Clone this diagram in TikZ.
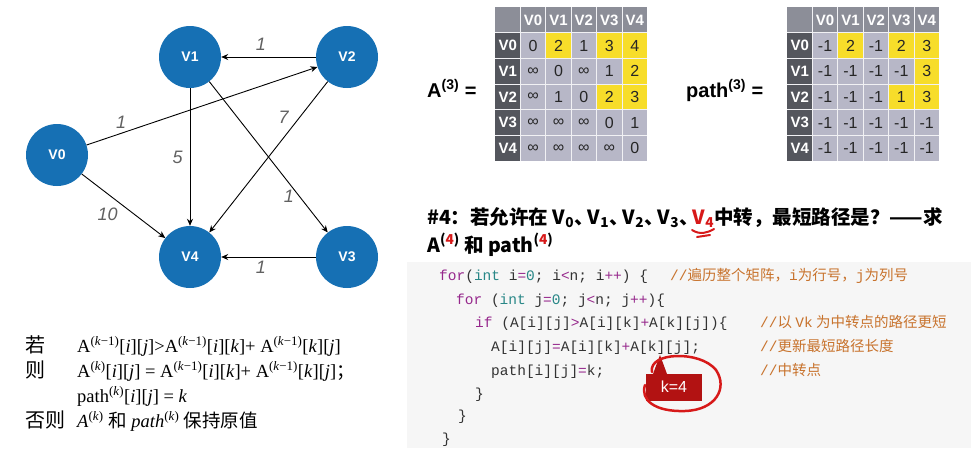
\documentclass[tikz,border=0pt]{standalone}
\usepackage{fontspec}
\usetikzlibrary{arrows.meta}
\newfontfamily\hei{Noto Sans CJK SC}
\newfontfamily\tms{Liberation Serif}
\newfontfamily\hv{Liberation Sans}
\newfontfamily\mono{Liberation Mono}

\definecolor{vblue}{RGB}{22,112,180}
\definecolor{hdgray}{RGB}{140,142,152}
\definecolor{rowgray}{RGB}{84,86,93}
\definecolor{cellgray}{RGB}{183,183,199}
\definecolor{cellyel}{RGB}{247,221,42}
\definecolor{codebg}{RGB}{246,246,246}
\definecolor{kwpurple}{RGB}{150,40,140}
\definecolor{tyteal}{RGB}{40,135,135}
\definecolor{cmorange}{RGB}{200,115,45}
\definecolor{markred}{RGB}{215,25,25}
\definecolor{boxred}{RGB}{178,18,18}

% code colouring
\newcommand{\ckw}[1]{\textcolor{kwpurple}{#1}}
\newcommand{\cty}[1]{\textcolor{tyteal}{#1}}
\newcommand{\cnum}[1]{\textcolor{tyteal}{#1}}
\newcommand{\cop}[1]{\textcolor{kwpurple}{#1}}
\newcommand{\sk}[1]{\textsuperscript{(\textit{#1})}}
\newcommand{\skm}{\textsuperscript{(\textit{k}−1)}}
\newcommand{\dun}{\makebox[0.7em][l]{、}}

\tikzset{
  vert/.style={circle, fill=vblue, minimum size=62pt, inner sep=0pt, text=white,
    font=\hv\bfseries\fontsize{14}{14}\selectfont},
  arc/.style={-{Stealth[length=7pt,width=6pt]}, line width=0.9pt},
  wt/.style={font=\hv\itshape\fontsize{18}{18}\selectfont, text=black!62, inner sep=2pt},
  frm/.style={anchor=base west, inner sep=0pt, font=\tms\fontsize{18.5}{18.5}\selectfont},
  cjk/.style={anchor=base west, inner sep=0pt, font=\hei\fontsize{19}{19}\selectfont},
  hdtxt/.style={text=white, font=\hv\bfseries\fontsize{15}{15}\selectfont, inner sep=0pt},
  celltxt/.style={text=black!85, font=\hv\fontsize{16}{16}\selectfont, inner sep=0pt},
  matlab/.style={anchor=base west, inner sep=0pt, font=\hv\bfseries\fontsize{20}{20}\selectfont},
  codeln/.style={anchor=base west, inner sep=0pt, text=black!80, font=\mono\fontsize{14.5}{14.5}\selectfont},
  cmt/.style={anchor=base west, inner sep=0pt, text=cmorange, font=\hei\fontsize{14.5}{14.5}\selectfont},
}

\begin{document}
\begin{tikzpicture}[x=1pt, y=-1pt]
\useasboundingbox (0,0) rectangle (971,453);
\fill[white] (0,0) rectangle (971,453);

% graph
\node[vert] (V0) at (57,155) {V0};
\node[vert] (V1) at (190,57) {V1};
\node[vert] (V2) at (347,57) {V2};
\node[vert] (V3) at (347,257) {V3};
\node[vert] (V4) at (190,257) {V4};

\draw[arc] (V2) -- node[wt, pos=0.58, above=4pt] {1} (V1);
\draw[arc] (V0) -- node[wt, pos=0.15, above=2pt] {1} (V2);
\draw[arc] (V2) -- node[wt, pos=0.3, above left=1pt] {7} (V4);
\draw[arc] (V1) -- node[wt, left=5pt] {5} (V4);
\draw[arc] (V1) -- node[wt, pos=0.76, left=3pt] {1} (V3);
\draw[arc] (V0) -- node[wt, pos=0.47, below left=1pt] {10} (V4);
\draw[arc] (V3) -- node[wt, pos=0.58, below=2pt] {1} (V4);

% rule
\node[cjk, font=\hei\fontsize{20}{20}\selectfont] (ruo) at (25,352) {若};
\node[cjk, font=\hei\fontsize{20}{20}\selectfont] (ze) at (25,377) {则};
\node[cjk, font=\hei\fontsize{20}{20}\selectfont] (fouze) at (25,427) {否则};
\node[frm] (f1) at (77,352) {A\skm[\textit{i}][\textit{j}]>A\skm[\textit{i}][\textit{k}]+ A\skm[\textit{k}][\textit{j}]};
\node[frm] (f2) at (77,377) {A\sk{k}[\textit{i}][\textit{j}] = A\skm[\textit{i}][\textit{k}]+ A\skm[\textit{k}][\textit{j}]{\hei ；}};
\node[frm] (f3) at (77,402) {path\sk{k}[\textit{i}][\textit{j}] = \textit{k}};
\node[frm] (f4) at (77,427) {\textit{A}\sk{k} {\hei 和} \textit{path}\sk{k} {\hei 保持原值}};

% tables
\foreach \tx in {495,787} {
  \foreach \r in {1,...,5}
    \foreach \c in {1,...,5}
      \fill[cellgray] (\tx+\c*25.4,7+\r*25.7) rectangle +(25.4,25.7);
  \foreach \r/\c in {1/2,1/4,1/5,2/5,3/4,3/5}
    \fill[cellyel] (\tx+\c*25.4,7+\r*25.7) rectangle +(25.4,25.7);
  \foreach \c in {0,...,5}
    \fill[hdgray] (\tx+\c*25.4,7) rectangle +(25.4,25.7);
  \foreach \r in {1,...,5}
    \fill[rowgray] (\tx,7+\r*25.7) rectangle +(25.4,25.7);
  \foreach \i in {1,...,5} {
    \draw[white!80!cellgray, line width=0.8pt] (\tx+\i*25.4,7) -- +(0,154.2);
    \draw[white!80!cellgray, line width=0.8pt] (\tx,7+\i*25.7) -- +(152.4,0);
  }
  \foreach \i/\h in {1/V0,2/V1,3/V2,4/V3,5/V4} {
    \node[hdtxt] at (\tx+\i*25.4+12.7,19.85) {\h};
    \node[hdtxt] at (\tx+12.7,7+\i*25.7+12.85) {\h};
  }
}

\foreach \r/\va/\vb/\vc/\vd/\ve in {1/0/2/1/3/4, 2/∞/0/∞/1/2, 3/∞/1/0/2/3, 4/∞/∞/∞/0/1, 5/∞/∞/∞/∞/0}
  \foreach \c/\v in {1/\va,2/\vb,3/\vc,4/\vd,5/\ve}
    \node[celltxt] (a-\r-\c) at (495+\c*25.4+12.7,7+\r*25.7+12.85) {\v};

\foreach \r/\va/\vb/\vc/\vd/\ve in {1/-1/2/-1/2/3, 2/-1/-1/-1/-1/3, 3/-1/-1/-1/1/3, 4/-1/-1/-1/-1/-1, 5/-1/-1/-1/-1/-1}
  \foreach \c/\v in {1/\va,2/\vb,3/\vc,4/\vd,5/\ve}
    \node[celltxt] (p-\r-\c) at (787+\c*25.4+12.7,7+\r*25.7+12.85) {\v};

\node[matlab] (alab) at (427,97) {A\textsuperscript{(3)} =};
\node[matlab] (plab) at (686,97) {path\textsuperscript{(3)} =};

% question
\node[cjk, font=\hei\bfseries\fontsize{19.5}{19.5}\selectfont] (q1) at (427,224)
  {\#4：若允许在 V\textsubscript{0}\dun V\textsubscript{1}\dun V\textsubscript{2}\dun V\textsubscript{3}\dun\textcolor{markred}{V\textsubscript{4}}中转，最短路径是？——求};
\node[cjk, font=\hei\bfseries\fontsize{19.5}{19.5}\selectfont] (q2) at (427,252)
  {A\textsuperscript{(\textcolor{markred}{4})} 和 path\textsuperscript{(\textcolor{markred}{4})}};
\draw[markred, line width=2pt, line cap=round] (692,230) .. controls (700,235) and (707,233) .. (714,229);
\draw[markred, line width=2pt, line cap=round] (697,237) -- (710,235);

% code
\fill[codebg] (407,262) rectangle (971,448);
\node[codeln] (c1) at (439,280) {\ckw{for}(\cty{int} i\cop{=}\cnum{0}; i\cop{<}n; i\cop{++}) \{};
\node[codeln] (c2) at (456,304) {\ckw{for} (\cty{int} j\cop{=}\cnum{0}; j\cop{<}n; j\cop{++})\{};
\node[codeln] (c3) at (475,327) {\ckw{if} (A[i][j]\cop{>}A[i][k]\cop{+}A[k][j])\{};
\node[codeln] (c4) at (491,351) {A[i][j]\cop{=}A[i][k]\cop{+}A[k][j];};
\node[codeln] (c5) at (491,375) {path[i][j]\cop{=}k;};
\node[codeln] (c6) at (475,398) {\}};
\node[codeln] (c7) at (458,420) {\}};
\node[codeln] (c8) at (442,443) {\}};
\node[cmt] (m1) at (670,280) {{\mono//}遍历整个矩阵，{\mono i}为行号，{\mono j}为列号};
\node[cmt] (m2) at (760,327) {{\mono//}以 {\mono Vk} 为中转点的路径更短};
\node[cmt] (m3) at (760,351) {{\mono//}更新最短路径长度};
\node[cmt] (m4) at (760,375) {{\mono//}中转点};

% k=4 mark
\fill[boxred] (653,374) -- (660,355) -- (667,374) -- cycle;
\node[fill=boxred, text=white, font=\hv\fontsize{16}{16}\selectfont, minimum width=56pt, minimum height=27pt, inner sep=0pt] (kbox) at (674,387) {k=4};
\draw[markred, line width=2.5pt, line cap=round] (652,372) .. controls (648,352) and (700,350) .. (716,370)
  .. controls (728,388) and (716,410) .. (685,411) .. controls (655,412) and (640,400) .. (645,385);
\end{tikzpicture}
\end{document}
